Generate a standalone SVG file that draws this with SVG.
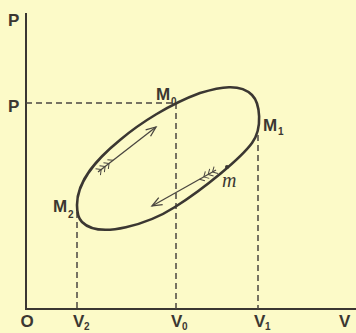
<svg xmlns="http://www.w3.org/2000/svg" width="356" height="333" viewBox="0 0 356 333">
<defs>
<style>
.ax{stroke:#3b3732;stroke-width:2;fill:none}
.da{stroke:#4a4640;stroke-width:1.5;fill:none;stroke-dasharray:6 4}
.cv{stroke:#3b3732;stroke-width:2.6;fill:none}
.ar{stroke:#4a4640;stroke-width:1.3;fill:none}
.lb{font-family:"Liberation Sans",Arial,sans-serif;font-weight:bold;font-size:17px;fill:#3b3732}
.sb{font-family:"Liberation Sans",Arial,sans-serif;font-weight:bold;font-size:10px;fill:#3b3732}
.it{font-family:"Liberation Serif","Times New Roman",serif;font-style:italic;font-size:20px;fill:#3b3732}
</style>
<marker id="head" viewBox="-12 -6 14 12" markerWidth="14" markerHeight="12" refX="0" refY="0" orient="auto" markerUnits="userSpaceOnUse">
<path d="M-10,-4 L0,0 L-10,4" stroke="#4a4640" stroke-width="1.3" fill="none"/>
</marker>
<marker id="tail" viewBox="-2 -6 22 12" markerWidth="22" markerHeight="12" refX="0" refY="0" orient="auto" markerUnits="userSpaceOnUse">
<path d="M4,0 l-4,-4 M4,0 l-4,4 M9,0 l-4,-4 M9,0 l-4,4 M14,0 l-4,-4 M14,0 l-4,4 M19,0 l-4,-4" stroke="#4a4640" stroke-width="1" fill="none"/>
</marker>
</defs>
<rect width="356" height="333" fill="#fcfac8"/>
<g id="axes">
<path class="ax" d="M26,13 V309 H356"/>
</g>
<g id="connectors">
<path class="da" d="M26,103 H176 V309"/>
<path class="da" d="M258,135 V309"/>
<path class="da" d="M77,212 V309"/>
<path class="ar" d="M98,172 L156,127" marker-start="url(#tail)" marker-end="url(#head)"/>
<path class="ar" d="M216,170 L152,206" marker-start="url(#tail)" marker-end="url(#head)"/>
</g>
<g id="cycle">
<path class="cv" d="M77,205 C77,180 98,158 120,140 C140,123 170,104 200,93 C220,87 240,83 252,95 C260,103 263,128 252,143 C241,158 205,188 175,207 C150,223 100,240 82,222 C78,218 77,212 77,205 Z"/>
<circle cx="227" cy="167" r="2" fill="#3b3732"/>
</g>
<g id="labels">
<text class="lb" x="8" y="26">P</text>
<text class="lb" x="8" y="112">P</text>
<text class="lb" x="156" y="100">M</text><text class="sb" x="171" y="105">0</text>
<text class="lb" x="263" y="131">M</text><text class="sb" x="278" y="135">1</text>
<text class="lb" x="53" y="212">M</text><text class="sb" x="68" y="218">2</text>
<text class="it" x="222" y="187">m</text>
<text class="lb" x="27" y="327" text-anchor="middle">O</text>
<text class="lb" x="73" y="327">V</text><text class="sb" x="84" y="330">2</text>
<text class="lb" x="171" y="327">V</text><text class="sb" x="182" y="330">0</text>
<text class="lb" x="254" y="327">V</text><text class="sb" x="265" y="330">1</text>
<text class="lb" x="339" y="327">V</text>
</g>
</svg>
